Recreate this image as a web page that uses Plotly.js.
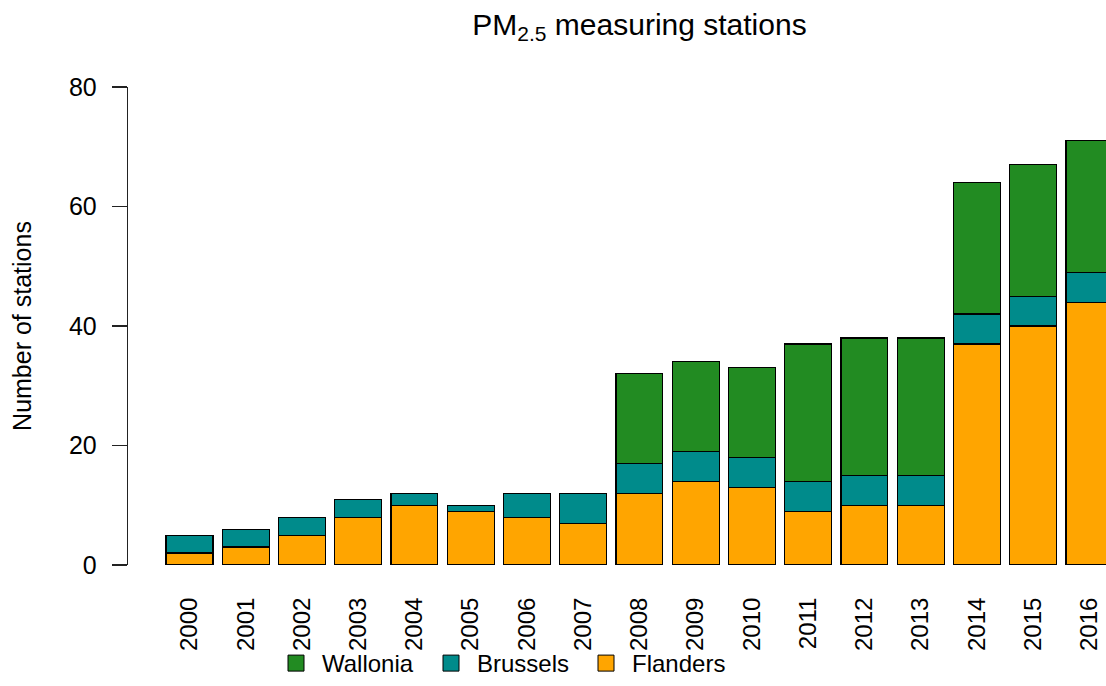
<!DOCTYPE html>
<html>
<head>
<meta charset="utf-8">
<script src="https://cdn.plot.ly/plotly-3.0.1.min.js"></script>
<style>html,body{margin:0;padding:0;background:#fff}#chart{width:1106px;height:686px}</style>
</head>
<body>
<div id="chart"></div>
<script>
const years = ['2000','2001','2002','2003','2004','2005','2006','2007','2008','2009','2010','2011','2012','2013','2014','2015','2016'];
const flanders = [2,3,5,8,10,9,8,7,12,14,13,9,10,10,37,40,44];
const brussels = [3,3,3,3,2,1,4,5,5,5,5,5,5,5,5,5,5];
const wallonia = [0,0,0,0,0,0,0,0,15,15,15,23,23,23,22,22,22];
const yTicks = [0,20,40,60,80];

const colors = {Wallonia:'#228B22', Brussels:'#008B8B', Flanders:'#FFA500'};
const FONT = 'Liberation Sans, Arial, sans-serif';

function barTrace(name, vals){
  return {type:'bar', name:name, x:years, y:vals.map(v => v === 0 ? null : v), showlegend:false,
    marker:{color:colors[name], line:{color:'#000', width:1.2}}, hoverinfo:'x+y+name'};
}
function legendTrace(name){
  return {type:'scatter', mode:'markers', name:name, x:[null], y:[null],
    marker:{symbol:'square', size:16, color:colors[name], line:{color:'#000', width:1}}};
}
const data = [
  barTrace('Flanders', flanders),
  barTrace('Brussels', brussels),
  barTrace('Wallonia', wallonia),
  legendTrace('Wallonia'),
  legendTrace('Brussels'),
  legendTrace('Flanders')
];
const layout = {
  width:1106, height:686,
  margin:{l:128, r:0, t:87, b:121, autoexpand:false},
  paper_bgcolor:'#fff', plot_bgcolor:'#fff',
  font:{family:FONT, size:24, color:'#000'},
  barmode:'stack', bargap:1/6,
  title:{text:'PM<sub>2.5</sub> measuring stations', font:{size:30, family:FONT, color:'#000'},
    xref:'container', yref:'container', x:639.5/1106, xanchor:'center', y:1-24/686, yanchor:'middle'},
  xaxis:{type:'category', range:[-1.093, 16.295], showline:false, showgrid:false, zeroline:false,
    ticks:'outside', ticklen:22, tickcolor:'rgba(0,0,0,0)', tickangle:-90,
    tickfont:{size:24, family:FONT, color:'#000'}, fixedrange:true, automargin:false},
  yaxis:{range:[0,80], tickvals:yTicks, ticktext:yTicks.map(String), showline:true, linecolor:'#222', linewidth:1.3,
    ticks:'outside', ticklen:15, tickwidth:1.3, tickcolor:'#222', showgrid:false, zeroline:false,
    ticklabelstandoff:10, tickfont:{size:25, family:FONT, color:'#000'},
    title:{text:'Number of stations', font:{size:25, family:FONT, color:'#000'}, standoff:30}, fixedrange:true},
  showlegend:true,
  legend:{orientation:'h', traceorder:'normal', xref:'container', yref:'container',
    x:270/1106, xanchor:'left', y:0, yanchor:'bottom', itemwidth:42,
    font:{size:24, family:FONT, color:'#000'}, entrywidth:98, entrywidthmode:'pixels', bgcolor:'rgba(0,0,0,0)'}
};
Plotly.newPlot('chart', data, layout, {displayModeBar:false, staticPlot:true});
</script>
</body>
</html>
